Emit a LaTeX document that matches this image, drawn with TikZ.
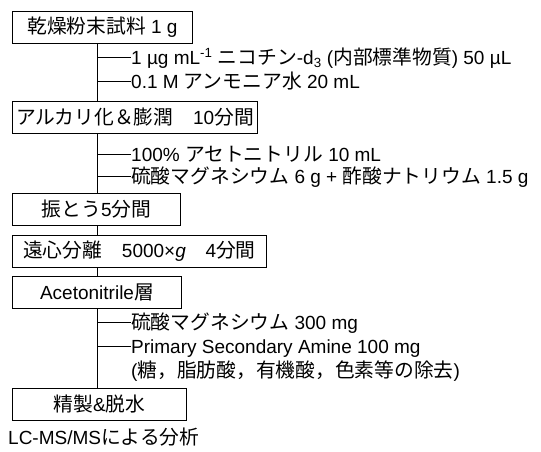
\documentclass[tikz,border=0pt]{standalone}
\usepackage{fontspec}
\setmainfont{Liberation Sans}
\newfontfamily\jpfont[Scale=1.04]{Noto Sans CJK JP}
\newcommand{\J}[1]{{\jpfont #1}}
\begin{document}
\begin{tikzpicture}[x=1pt,y=-1pt,
  every node/.style={font=\fontsize{19}{22}\selectfont},
  stepbox/.style={draw,line width=0.9pt,rectangle,anchor=west,minimum height=32pt,inner sep=0pt,align=center},
  addtext/.style={anchor=west,inner sep=0pt,text height=14pt,text depth=0pt},
  flow/.style={line width=0.9pt}]
\useasboundingbox (0,0) rectangle (541,451);
% boxes
\node[stepbox,minimum width=180pt] (B1) at (12,27.5) {\J{乾燥粉末試料} 1 g};
\node[stepbox,minimum width=245pt] (B2) at (12,117) {\J{アルカリ化＆膨潤　}10\J{分間}};
\node[stepbox,minimum width=168pt] (B3) at (12,209.5) {\J{振とう}5\J{分間}};
\node[stepbox,minimum width=254pt] (B4) at (12,251) {\J{遠心分離　}5000×\textit{g}\J{　}4\J{分間}};
\node[stepbox,minimum width=169pt] (B5) at (12,292) {Acetonitrile\J{層}};
\node[stepbox,minimum width=174pt] (B6) at (12,404) {\J{精製}\&\J{脱水}};
\node[addtext] (LC) at (8,437) {LC-MS/MS\J{による分析}};
% added reagents
\node[addtext] (T1) at (131,57) {1 µg mL\textsuperscript{-1} \J{ニコチン}-d\textsubscript{3} (\J{内部標準物質}) 50 µL};
\node[addtext] (T2) at (131,81) {0.1 M \J{アンモニア水} 20 mL};
\node[addtext] (T3) at (131,154) {100\% \J{アセトニトリル} 10 mL};
\node[addtext] (T4) at (131,176) {\J{硫酸マグネシウム} 6 g + \J{酢酸ナトリウム} 1.5 g};
\node[addtext] (T5) at (131,322) {\J{硫酸マグネシウム} 300 mg};
\node[addtext] (T6) at (131,346) {Primary Secondary Amine 100 mg};
\node[addtext] (T7) at (131,370) {(\J{糖，脂肪酸，有機酸，色素等の除去})};
% branch points
\coordinate (b1) at (97,57);
\coordinate (b2) at (97,81);
\coordinate (b3) at (97,154);
\coordinate (b4) at (97,176);
\coordinate (b5) at (97,322);
\coordinate (b6) at (97,346);
% main flow
\draw[flow] ([xshift=85pt]B1.south west) -- ([xshift=85pt]B2.north west);
\draw[flow] ([xshift=85pt]B2.south west) -- ([xshift=85pt]B3.north west);
\draw[flow] ([xshift=85pt]B3.south west) -- ([xshift=85pt]B4.north west);
\draw[flow] ([xshift=85pt]B4.south west) -- ([xshift=85pt]B5.north west);
\draw[flow] ([xshift=85pt]B5.south west) -- ([xshift=85pt]B6.north west);
% branches
\foreach \i in {1,...,6} \draw[flow] (b\i) -- (T\i.west);
\end{tikzpicture}
\end{document}
